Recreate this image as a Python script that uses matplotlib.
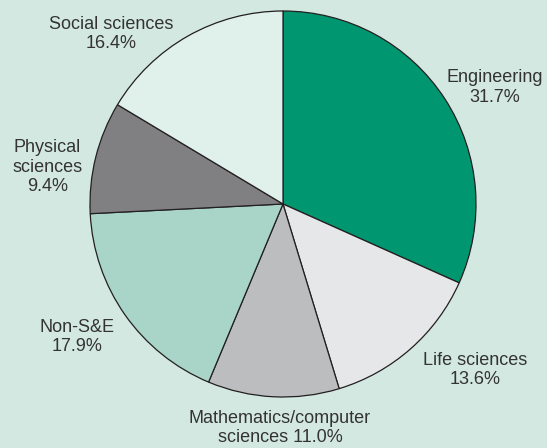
import matplotlib
matplotlib.use("Agg")
import matplotlib.pyplot as plt

# Share of degrees by field
fields = ["Engineering", "Life sciences", "Mathematics/computer\nsciences",
          "Non-S&E", "Physical\nsciences", "Social sciences"]
shares = [31.7, 13.6, 11.0, 17.9, 9.4, 16.4]
colors = ["#009670", "#e6e7e8", "#bcbdbf", "#a8d5c8", "#808082", "#e0f0ea"]

# label anchor points in pie units (centre of each text block)
label_xy = [(1.098, 0.605), (0.995, -0.86), (-0.016, -1.16),
            (-1.065, -0.69), (-1.22, 0.19), (-0.89, 0.88)]
label_sep = ["\n", "\n", " ", "\n", "\n", "\n"]

bg = "#d3e8e0"
fig = plt.figure(figsize=(5.47, 4.48), dpi=100, facecolor=bg)
ax = fig.add_axes([90 / 547, 51 / 448, 386 / 547, 386 / 448])
ax.set_facecolor(bg)

ax.pie(shares, colors=colors, startangle=90, counterclock=False,
       wedgeprops=dict(edgecolor="#231f20", linewidth=0.9))
ax.set_xlim(-1, 1)
ax.set_ylim(-1, 1)
ax.set_aspect("equal")

for name, val, (x, y), sep in zip(fields, shares, label_xy, label_sep):
    ax.text(x, y, f"{name}{sep}{val:.1f}%", ha="center", va="center",
            fontsize=13, family="Liberation Sans", color="#333333",
            linespacing=1.2, clip_on=False)

fig.savefig("out.png", dpi=100, facecolor=bg)
